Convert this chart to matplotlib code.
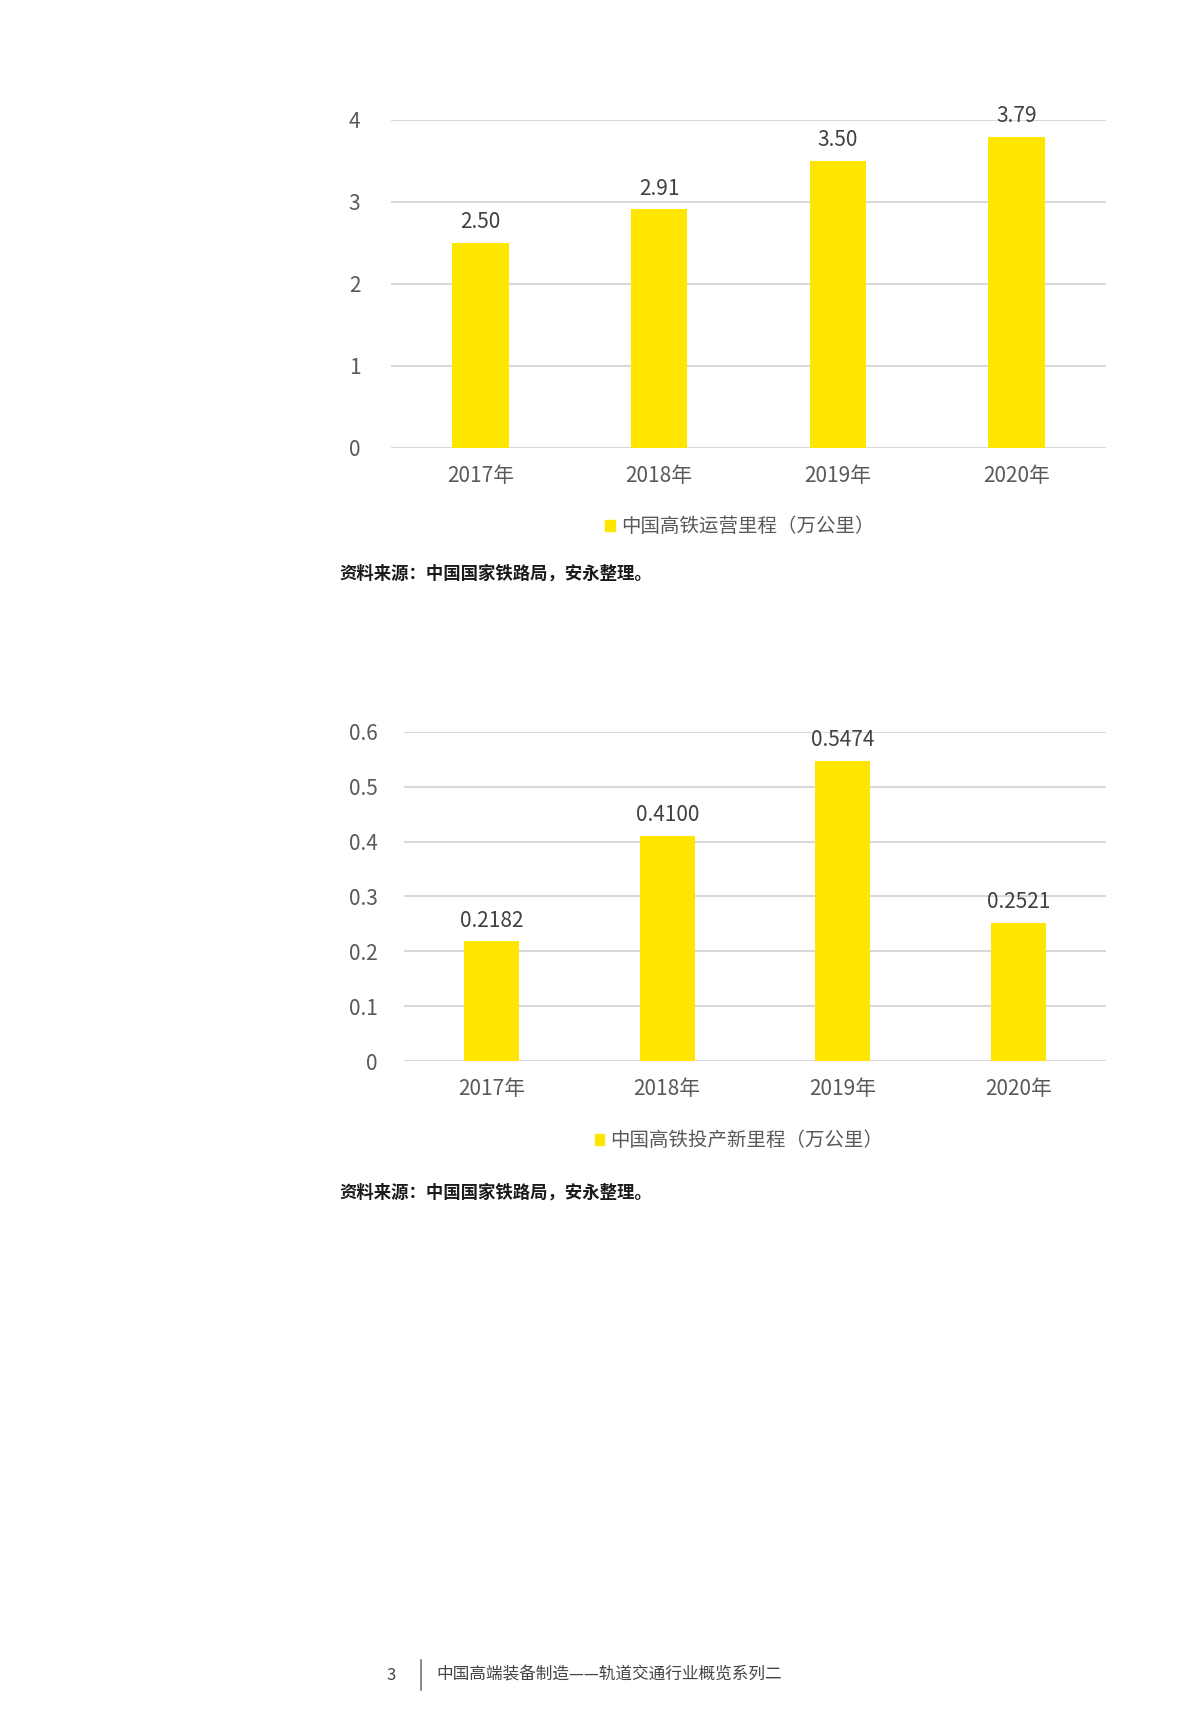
import matplotlib
matplotlib.use("Agg")
import matplotlib.pyplot as plt
from matplotlib.patches import Patch

plt.rcParams['font.family'] = ['Noto Sans CJK SC', 'DejaVu Sans']

years = ['2017年', '2018年', '2019年', '2020年']
operating = [2.50, 2.91, 3.50, 3.79]
operating_labels = ['2.50', '2.91', '3.50', '3.79']
new_km = [0.2182, 0.4100, 0.5474, 0.2521]
new_labels = ['0.2182', '0.4100', '0.5474', '0.2521']
legend1 = '中国高铁运营里程（万公里）'
legend2 = '中国高铁投产新里程（万公里）'
source = '资料来源：中国国家铁路局，安永整理。'
footer_num = '3'
footer_text = '中国高端装备制造——轨道交通行业概览系列二'

YELLOW = '#FFE600'
GRID = '#D9D9D9'
TICK = '#595959'
LAB = '#404040'

W, H = 1200, 1735
fig = plt.figure(figsize=(W/100, H/100), dpi=100)

def px_axes(left, top, right, bottom):
    return fig.add_axes([left/W, 1-bottom/H, (right-left)/W, (bottom-top)/H])

def style(ax, ymax, ypad):
    ax.set_xlim(-0.5, 3.5)
    ax.set_ylim(0, ymax)
    for s in ax.spines.values():
        s.set_visible(False)
    ax.tick_params(length=0)
    ax.tick_params(axis='y', pad=ypad, labelsize=15, labelcolor=TICK)
    ax.tick_params(axis='x', pad=12, labelsize=15, labelcolor=TICK)
    ax.yaxis.grid(True, color=GRID, linewidth=1.5)
    ax.set_axisbelow(True)

x = list(range(len(years)))

# Chart 1
ax1 = px_axes(391, 120, 1106, 448)
ax1.bar(x, operating, width=0.315, color=YELLOW, zorder=3)
style(ax1, 4, 22)
ax1.set_yticks([0, 1, 2, 3, 4])
ax1.set_yticklabels(['0', '1', '2', '3', '4'])
ax1.set_xticks(x)
ax1.set_xticklabels(years)
for xi, v, t in zip(x, operating, operating_labels):
    ax1.annotate(t, (xi, v), xytext=(0, 7), textcoords='offset points',
                 ha='center', va='bottom', fontsize=15, color=LAB, clip_on=False)
lg1 = ax1.legend([Patch(color=YELLOW)], [legend1], loc='center',
                 bbox_to_anchor=(740/W, 1-527/H), bbox_transform=fig.transFigure,
                 frameon=False, fontsize=14, handlelength=0.5, handleheight=0.5,
                 handletextpad=0.3, borderpad=0)
for t in lg1.get_texts():
    t.set_color(TICK)
fig.text(339/W, 1-574/H, source, ha='left', va='center', fontsize=12.5,
         fontweight='bold', color='#1a1a1a')

# Chart 2
ax2 = px_axes(404, 732, 1106, 1061)
ax2.bar(x, new_km, width=0.315, color=YELLOW, zorder=3)
style(ax2, 0.6, 19)
ax2.set_yticks([0, 0.1, 0.2, 0.3, 0.4, 0.5, 0.6])
ax2.set_yticklabels(['0', '0.1', '0.2', '0.3', '0.4', '0.5', '0.6'])
ax2.set_xticks(x)
ax2.set_xticklabels(years)
for xi, v, t in zip(x, new_km, new_labels):
    ax2.annotate(t, (xi, v), xytext=(0, 7), textcoords='offset points',
                 ha='center', va='bottom', fontsize=15, color=LAB, clip_on=False)
lg2 = ax2.legend([Patch(color=YELLOW)], [legend2], loc='center',
                 bbox_to_anchor=(739/W, 1-1141/H), bbox_transform=fig.transFigure,
                 frameon=False, fontsize=14, handlelength=0.5, handleheight=0.5,
                 handletextpad=0.3, borderpad=0)
for t in lg2.get_texts():
    t.set_color(TICK)
fig.text(339/W, 1-1193/H, source, ha='left', va='center', fontsize=12.5,
         fontweight='bold', color='#1a1a1a')

# Footer
fig.text(391/W, 1-1675/H, footer_num, ha='center', va='center', fontsize=12, color='#444444')
fig.add_artist(plt.Line2D([421/W, 421/W], [1-1660/H, 1-1690/H], color='#777777', linewidth=1.2))
fig.text(436/W, 1-1675/H, footer_text, ha='left', va='center', fontsize=12, color='#444444')

fig.savefig('out.png', dpi=100)
